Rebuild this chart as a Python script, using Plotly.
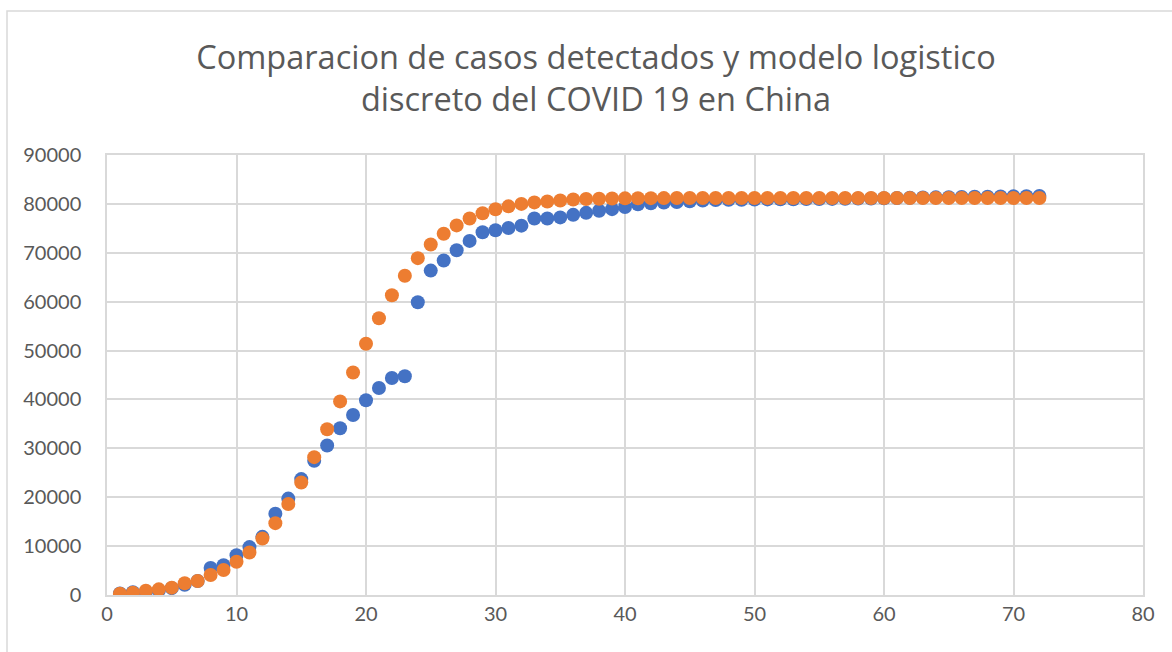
import plotly.graph_objects as go

# Day index of the outbreak
dias = list(range(1, 73))

# Confirmed cases reported in China
casos_detectados = [
    300, 548, 643, 920, 1406, 2075, 2877, 5509, 6087, 8141,
    9802, 11891, 16630, 19716, 23707, 27440, 30587, 34110, 36814, 39829,
    42354, 44386, 44759, 59895, 66358, 68413, 70513, 72434, 74211, 74619,
    75077, 75550, 77001, 77022, 77241, 77754, 78166, 78600, 78928, 79356,
    79932, 80136, 80261, 80386, 80537, 80690, 80770, 80823, 80860, 80887,
    80921, 80932, 80945, 80977, 81003, 81021, 81048, 81077, 81116, 81151,
    81200, 81250, 81300, 81340, 81380, 81420, 81450, 81480, 81510, 81540,
    81570, 81600,
]

# Discrete logistic model
modelo_logistico = [
    280, 470, 880, 1160, 1500, 2390, 2860, 4100, 5100, 6800,
    8700, 11570, 14700, 18600, 23000, 28200, 33900, 39600, 45500, 51400,
    56600, 61300, 65300, 68900, 71700, 73900, 75600, 77000, 78100, 78900,
    79500, 80000, 80300, 80500, 80700, 80900, 81000, 81050, 81100, 81130,
    81150, 81170, 81180, 81190, 81200, 81200, 81200, 81200, 81200, 81200,
    81200, 81200, 81200, 81200, 81200, 81200, 81200, 81200, 81200, 81200,
    81200, 81200, 81200, 81200, 81200, 81200, 81200, 81200, 81200, 81200,
    81200, 81200,
]

x_ticks = list(range(0, 81, 10))
y_ticks = list(range(0, 90001, 10000))

AZUL = "#4472C4"
NARANJA = "#ED7D31"
GRIS_TEXTO = "#595959"
GRIS_REJILLA = "#D9D9D9"
FUENTE = "Lato, 'Open Sans', sans-serif"
FUENTE_TITULO = "'Open Sans', Lato, sans-serif"

fig = go.Figure()
fig.add_trace(go.Scatter(
    x=dias, y=casos_detectados, mode="markers", name="Casos detectados",
    marker=dict(color=AZUL, size=14, line=dict(width=0)),
))
fig.add_trace(go.Scatter(
    x=dias, y=modelo_logistico, mode="markers", name="Modelo logistico",
    marker=dict(color=NARANJA, size=14, line=dict(width=0)),
))

eje = dict(
    showgrid=True, gridcolor=GRIS_REJILLA, gridwidth=1.5,
    showline=True, linecolor=GRIS_REJILLA, linewidth=1.5, mirror=True,
    zeroline=False, ticks="",
    tickfont=dict(family=FUENTE, size=20, color=GRIS_TEXTO),
)

fig.update_layout(
    width=1172, height=652,
    paper_bgcolor="white", plot_bgcolor="white",
    showlegend=False,
    margin=dict(l=107, r=29, t=155, b=57),
    title=dict(
        text="Comparacion de casos detectados y modelo logistico<br>discreto del COVID 19 en China",
        x=596 / 1172, xref="container", xanchor="center",
        y=1 - 69 / 652, yanchor="middle",
        font=dict(family=FUENTE_TITULO, size=32.5, color=GRIS_TEXTO),
    ),
    xaxis=dict(eje, range=[0, 80], tickvals=x_ticks),
    yaxis=dict(eje, range=[0, 90000], tickvals=y_ticks, tickformat="d",
               ticklabelstandoff=20),
)

# Outer frame of the chart area
fig.add_shape(
    type="rect", xref="paper", yref="paper",
    x0=-100 / 1036, x1=1.2, y0=-0.3, y1=584 / 440,
    line=dict(color=GRIS_REJILLA, width=1.5), fillcolor="rgba(0,0,0,0)",
    layer="below",
)

fig.write_html("out.html")
